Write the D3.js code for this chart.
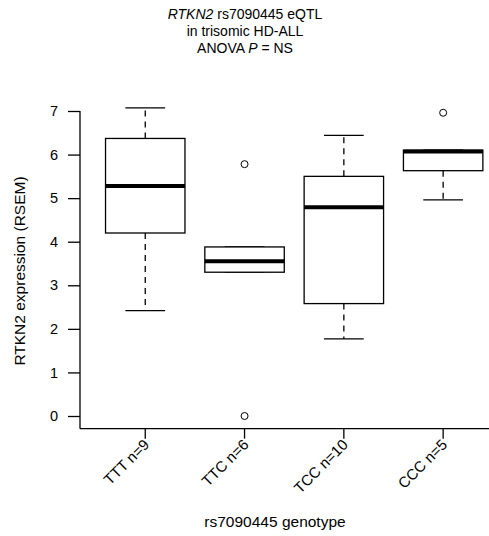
<!DOCTYPE html>
<html>
<head>
<meta charset="utf-8">
<script src="https://cdn.jsdelivr.net/npm/d3@7"></script>
<style>
  body { margin: 0; background: #fff; }
  svg { font-family: "Liberation Sans", Arial, sans-serif; }
</style>
</head>
<body>
<svg id="chart" width="489" height="536"></svg>
<script>
// genotype groups and box statistics
const categories = ["TTT n=9", "TTC n=6", "TCC n=10", "CCC n=5"];
const whiskerLow  = [2.42, 3.30, 1.77, 4.96];
const lowerQuart  = [4.20, 3.30, 2.58, 5.63];
const medians     = [5.28, 3.55, 4.79, 6.07];
const upperQuart  = [6.37, 3.88, 5.50, 6.10];
const whiskerHigh = [7.07, 3.88, 6.44, 6.10];
const outliers    = [[], [5.78, 0.0], [], [6.96]];
const yTicks = [0, 1, 2, 3, 4, 5, 6, 7];

const svg = d3.select("#chart");

let y = d3.scaleLinear().domain([0, 7]).range([416, 111]);
let x = d3.scaleBand().domain(categories).range([95.6, 492.8])
    .paddingInner(0.2).paddingOuter(0.1);

const axisLeftX = 80;
const axisBottomY = y(-0.29);

let boxes = categories.map(function (c, i) {
    return {
        cat: c,
        lo: whiskerLow[i], q1: lowerQuart[i], med: medians[i],
        q3: upperQuart[i], hi: whiskerHigh[i], out: outliers[i]
    };
});

// title
let title = svg.append("text")
    .attr("text-anchor", "middle")
    .style("font-size", "14px")
    .attr("fill", "#000");
const tx = 245;
let l1 = title.append("tspan").attr("x", tx).attr("y", 19);
l1.append("tspan").style("font-style", "italic").text("RTKN2");
l1.append("tspan").text(" rs7090445 eQTL");
title.append("tspan").attr("x", tx).attr("y", 36).text("in trisomic HD-ALL");
let l3 = title.append("tspan").attr("x", tx).attr("y", 53);
l3.append("tspan").text("ANOVA ");
l3.append("tspan").style("font-style", "italic").text("P");
l3.append("tspan").text(" = NS");

// axes lines (L shape)
svg.append("line")
    .attr("x1", axisLeftX).attr("x2", axisLeftX)
    .attr("y1", y(7)).attr("y2", axisBottomY)
    .attr("stroke", "#000").attr("stroke-width", 1.3);
svg.append("line")
    .attr("x1", axisLeftX).attr("x2", 489)
    .attr("y1", axisBottomY).attr("y2", axisBottomY)
    .attr("stroke", "#000").attr("stroke-width", 1.3);

// y axis
let gy = svg.append("g")
    .attr("transform", "translate(" + axisLeftX + ",0)")
    .call(d3.axisLeft(y).tickValues(yTicks).tickSize(12).tickPadding(10).tickFormat(d3.format("d")));
gy.select(".domain").remove();
gy.selectAll("line").attr("stroke", "#000").attr("stroke-width", 1.3);
gy.selectAll("text").style("font-size", "14.5px").style("font-family", "Liberation Sans, Arial, sans-serif").attr("fill", "#000");

// x axis
let gx = svg.append("g")
    .attr("transform", "translate(0," + axisBottomY + ")")
    .call(d3.axisBottom(x).tickSize(10).tickFormat(""));
gx.select(".domain").remove();
gx.selectAll("line").attr("stroke", "#000").attr("stroke-width", 1.3);

svg.append("g").selectAll("text")
    .data(categories).enter().append("text")
    .attr("text-anchor", "end")
    .attr("transform", function (d) {
        return "translate(" + (x(d) + x.bandwidth() / 2 + 5) + "," + (axisBottomY + 17) + ") rotate(-45)";
    })
    .style("font-size", "15px")
    .attr("fill", "#000")
    .text(function (d) { return d; });

// axis titles
svg.append("text")
    .attr("text-anchor", "middle")
    .attr("transform", "translate(25," + 271 + ") rotate(-90)")
    .style("font-size", "15.5px")
    .text("RTKN2 expression (RSEM)");
svg.append("text")
    .attr("text-anchor", "middle")
    .attr("x", 275).attr("y", 527)
    .style("font-size", "15.5px")
    .text("rs7090445 genotype");

// boxes
let g = svg.append("g").attr("class", "boxes");
let items = g.selectAll(".box").data(boxes).enter().append("g").attr("class", "box")
    .attr("transform", function (d) { return "translate(" + x(d.cat) + ",0)"; });

const bw = x.bandwidth();

// whiskers (dashed)
items.append("line")
    .attr("x1", bw / 2).attr("x2", bw / 2)
    .attr("y1", function (d) { return y(d.q3); })
    .attr("y2", function (d) { return y(d.hi); })
    .attr("stroke", "#000").attr("stroke-width", 1.3).attr("stroke-dasharray", "6,5");
items.append("line")
    .attr("x1", bw / 2).attr("x2", bw / 2)
    .attr("y1", function (d) { return y(d.q1); })
    .attr("y2", function (d) { return y(d.lo); })
    .attr("stroke", "#000").attr("stroke-width", 1.3).attr("stroke-dasharray", "6,5");

// caps
items.append("line")
    .attr("x1", bw / 4).attr("x2", bw * 3 / 4)
    .attr("y1", function (d) { return y(d.hi); })
    .attr("y2", function (d) { return y(d.hi); })
    .attr("stroke", "#000").attr("stroke-width", 1.3);
items.append("line")
    .attr("x1", bw / 4).attr("x2", bw * 3 / 4)
    .attr("y1", function (d) { return y(d.lo); })
    .attr("y2", function (d) { return y(d.lo); })
    .attr("stroke", "#000").attr("stroke-width", 1.3);

// box
items.append("rect")
    .attr("x", 0).attr("width", bw)
    .attr("y", function (d) { return y(d.q3); })
    .attr("height", function (d) { return y(d.q1) - y(d.q3); })
    .attr("fill", "#fff").attr("stroke", "#000").attr("stroke-width", 1.3);

// median
items.append("line")
    .attr("x1", 0).attr("x2", bw)
    .attr("y1", function (d) { return y(d.med); })
    .attr("y2", function (d) { return y(d.med); })
    .attr("stroke", "#000").attr("stroke-width", 4);

// outliers
items.selectAll("circle").data(function (d) { return d.out; }).enter().append("circle")
    .attr("cx", bw / 2)
    .attr("cy", function (d) { return y(d); })
    .attr("r", 3.5)
    .attr("fill", "none").attr("stroke", "#000").attr("stroke-width", 1);
</script>
</body>
</html>
